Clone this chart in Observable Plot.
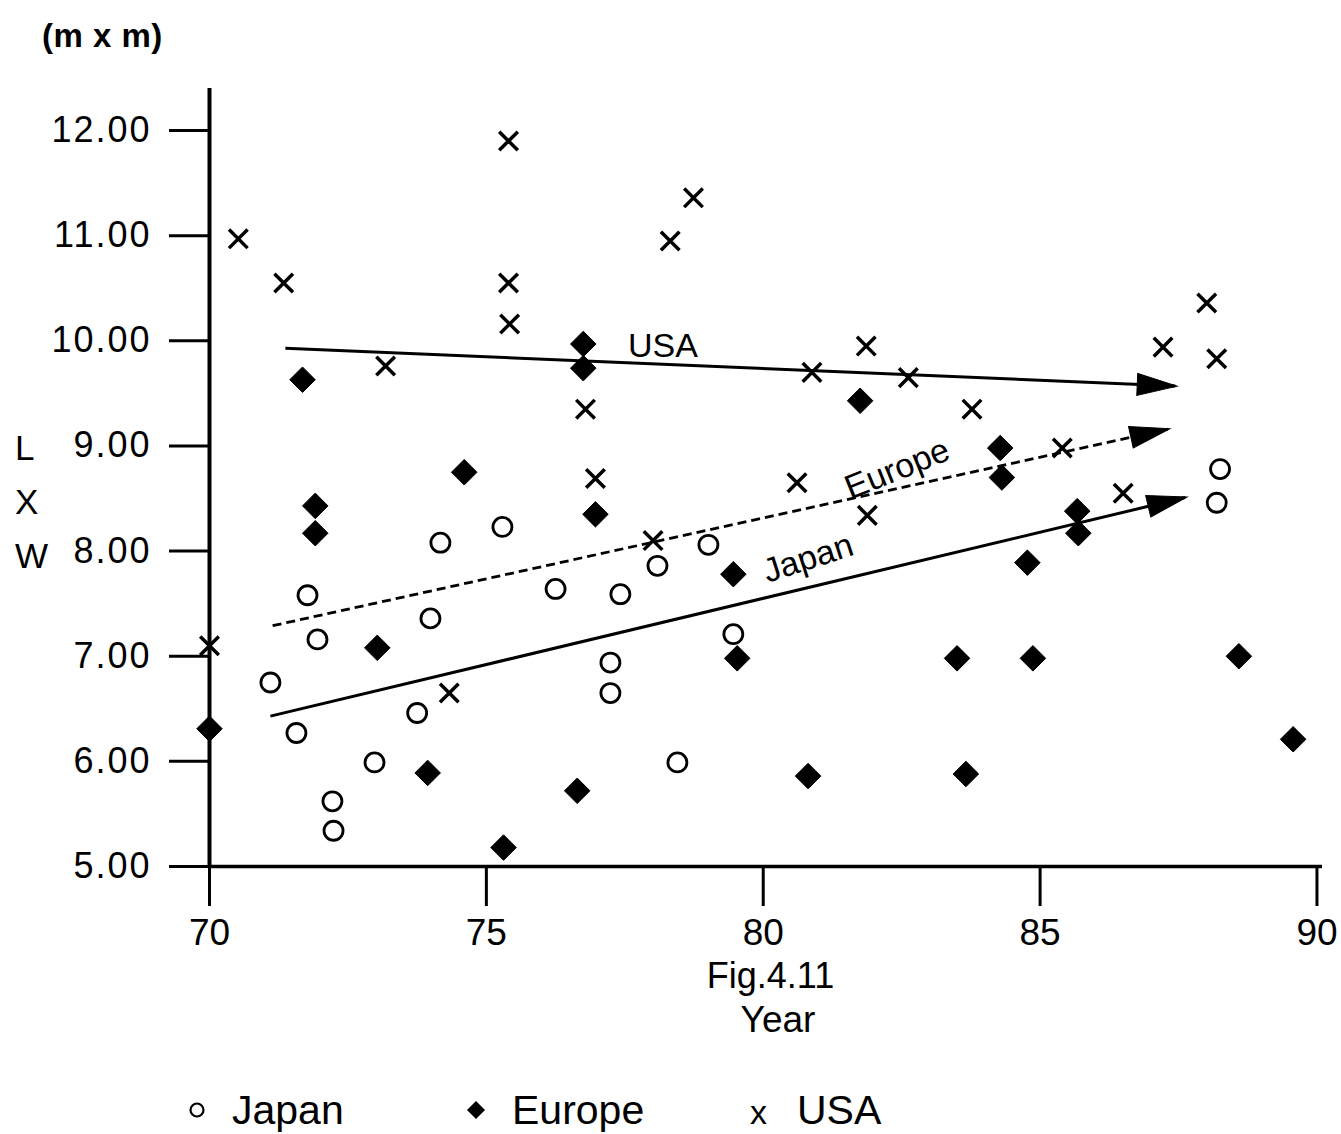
<!DOCTYPE html>
<html>
<head>
<meta charset="utf-8">
<script src="https://cdn.jsdelivr.net/npm/d3@7"></script>
<script src="https://cdn.jsdelivr.net/npm/@observablehq/plot@0.6"></script>
<style>
  body { margin: 0; background: #fff; color: #000; font-family: "Liberation Sans", Arial, sans-serif; }
  #wrap { position: relative; width: 1341px; height: 1134px; overflow: hidden; }
  #unit { height: 70px; line-height: 72px; padding-left: 42px; font-size: 33px; font-weight: bold; letter-spacing: 0.5px; }
  #letters { position: absolute; left: 15px; top: 421px; font-size: 35px; line-height: 54px; }
  #fig { height: 44px; line-height: 52px; font-size: 36px; text-align: center; padding-left: 200px; }
  #year { height: 56px; line-height: 52px; font-size: 37px; text-align: center; padding-left: 215px; }
  #legend { position: relative; height: 84px; font-size: 41px; }
  #legend .item { position: absolute; top: 38px; line-height: 44px; white-space: nowrap; }
  #legend svg { vertical-align: middle; margin-top: -6px; }
  #chart svg g[aria-label="y-axis tick label"] text { letter-spacing: 2px; }
</style>
</head>
<body>
<div id="wrap">
  <div id="unit">(m x m)</div>
  <div id="letters">L<br>X<br>W</div>
  <div id="chart"></div>
  <div id="fig">Fig.4.11</div>
  <div id="year">Year</div>
  <div id="legend"></div>
</div>
<script>
// ---- Data ----
const japanX = [71.10, 71.57, 71.77, 71.95, 72.22, 72.24, 72.98, 73.75, 73.99, 74.17, 75.29,
                76.25, 77.42, 77.24, 77.24, 78.09, 78.45, 79.01, 79.46, 88.25, 88.19];
const japanY = [6.75, 6.27, 7.58, 7.16, 5.62, 5.34, 5.99, 6.46, 7.36, 8.08, 8.23,
                7.64, 7.59, 6.94, 6.65, 7.86, 5.99, 8.06, 7.21, 8.78, 8.46];

const europeX = [70.00, 71.68, 71.91, 71.91, 73.03, 73.94, 74.60, 75.31, 76.64, 76.75, 76.75, 76.97,
                 79.46, 79.53, 80.81, 81.75, 83.50, 83.66, 84.28, 84.31, 84.77, 84.87, 85.67, 85.69,
                 88.59, 89.57];
const europeY = [6.31, 9.63, 8.43, 8.17, 7.08, 5.89, 8.75, 5.18, 5.72, 9.97, 9.74, 8.35,
                 7.78, 6.98, 5.86, 9.43, 6.98, 5.88, 8.98, 8.70, 7.89, 6.98, 8.38, 8.17,
                 7.00, 6.21];

const usaX = [70.00, 70.52, 71.34, 73.18, 74.33, 75.40, 75.40, 75.42, 76.79, 76.97, 78.01, 78.32,
              78.74, 80.61, 80.88, 81.86, 81.88, 82.62, 83.77, 85.40, 86.50, 87.22, 88.01, 88.19];
const usaY = [7.10, 10.97, 10.55, 9.76, 6.65, 11.90, 10.55, 10.16, 9.35, 8.69, 8.10, 10.95,
              11.36, 8.65, 9.70, 9.95, 8.34, 9.65, 9.35, 8.98, 8.55, 9.94, 10.36, 9.83];

// Trend arrows (start -> arrow tip)
const trendNames = ["USA", "Europe", "Japan"];
const trendX0 = [71.37, 71.14, 71.10];
const trendY0 = [9.93, 7.29, 6.43];
const trendX1 = [87.44, 87.31, 87.62];
const trendY1 = [9.57, 9.16, 8.51];

// In-plot labels for the trends
const labelText = ["USA", "Europe", "Japan"];
const labelX = [78.19, 82.42, 80.81];
const labelY = [9.95, 8.78, 7.93];

const xTicks = [70, 75, 80, 85, 90];
const yTicks = [5, 6, 7, 8, 9, 10, 11, 12];

// ---- Layout ----
const W = 1341, H = 880, ML = 209, MR = 19, MT = 18, MB = 84;
const xDomain = [70, 90.1], yDomain = [5, 12.4];
const kx = (W - ML - MR) / (xDomain[1] - xDomain[0]);
const ky = (H - MT - MB) / (yDomain[1] - yDomain[0]);

const pts = (xs, ys) => xs.map((x, i) => ({x, y: ys[i]}));
const japan = pts(japanX, japanY);
const europe = pts(europeX, europeY);
const usa = pts(usaX, usaY);
const trends = trendNames.map((name, i) => ({
  name, x0: trendX0[i], y0: trendY0[i], x1: trendX1[i], y1: trendY1[i],
  angle: Math.atan2(-(trendY1[i] - trendY0[i]) * ky, (trendX1[i] - trendX0[i]) * kx) * 180 / Math.PI
}));
const labelRotate = {USA: 0, Europe: -22, Japan: -18};
const labels = labelText.map((t, i) => ({t, x: labelX[i], y: labelY[i], rot: labelRotate[t]}));

// filled, elongated arrowhead whose tip is at the origin, pointing right
const arrowHead = {
  draw(ctx) { ctx.moveTo(2, 0); ctx.lineTo(-38, -11); ctx.lineTo(-38, 11); ctx.closePath(); }
};

const font = '"Liberation Sans", Arial, sans-serif';

const chart = Plot.plot({
  width: W, height: H,
  marginLeft: ML, marginRight: MR, marginTop: MT, marginBottom: MB,
  x: {domain: xDomain},
  y: {domain: yDomain},
  style: {fontFamily: font, background: "white", color: "black", overflow: "visible"},
  marks: [
    Plot.axisY({ticks: yTicks, tickSize: 40, tickPadding: 18, tickFormat: d => d.toFixed(2),
                fontSize: 36, strokeWidth: 3, label: null}),
    Plot.axisX({ticks: xTicks, tickSize: 40, tickPadding: 12, tickFormat: d => String(d),
                fontSize: 37, strokeWidth: 3, label: null}),
    Plot.ruleX([xDomain[0]], {y1: yDomain[0], y2: yDomain[1], stroke: "black", strokeWidth: 4}),
    Plot.ruleY([yDomain[0]], {x1: xDomain[0], x2: xDomain[1], stroke: "black", strokeWidth: 3.5}),

    // trend lines
    Plot.link(trends.filter(d => d.name !== "Europe"),
      {x1: "x0", y1: "y0", x2: "x1", y2: "y1", stroke: "black", strokeWidth: 3}),
    Plot.link(trends.filter(d => d.name === "Europe"),
      {x1: "x0", y1: "y0", x2: "x1", y2: "y1", stroke: "black", strokeWidth: 2.8, strokeDasharray: "9,5"}),
    Plot.dot(trends, {x: "x1", y: "y1", symbol: arrowHead, r: 10, rotate: "angle",
      fill: "black", stroke: "black", strokeWidth: 1}),

    // trend labels
    Plot.text(labels, {x: "x", y: "y", text: "t", rotate: "rot", fontSize: 34, fill: "black"}),

    // points
    Plot.dot(japan, {x: "x", y: "y", symbol: "circle", r: 9.5, fill: "white", stroke: "black", strokeWidth: 2.8}),
    Plot.dot(europe, {x: "x", y: "y", symbol: "diamond2", r: 11.5, fill: "black", stroke: "black", strokeWidth: 1}),
    Plot.dot(usa, {x: "x", y: "y", symbol: "times", r: 8.5, stroke: "black", strokeWidth: 3.5})
  ]
});
document.getElementById("chart").appendChild(chart);

// ---- Legend ----
const legendItems = [
  {label: "Japan", left: 186, gap: 24, sym: '<svg width="22" height="22"><circle cx="11" cy="11" r="6.5" fill="none" stroke="black" stroke-width="2.2"/></svg>'},
  {label: "Europe", left: 464, gap: 24, sym: '<svg width="24" height="24"><path d="M12 3 L21 12 L12 21 L3 12 Z" fill="black"/></svg>'},
  {label: "USA", left: 750, gap: 30, sym: '<span style="font-size:34px">x</span>'}
];
const legend = document.getElementById("legend");
legendItems.forEach(it => {
  const s = document.createElement("span");
  s.className = "item";
  s.style.left = it.left + "px";
  s.innerHTML = it.sym + '<span style="margin-left:' + it.gap + 'px">' + it.label + '</span>';
  legend.appendChild(s);
});
</script>
</body>
</html>
